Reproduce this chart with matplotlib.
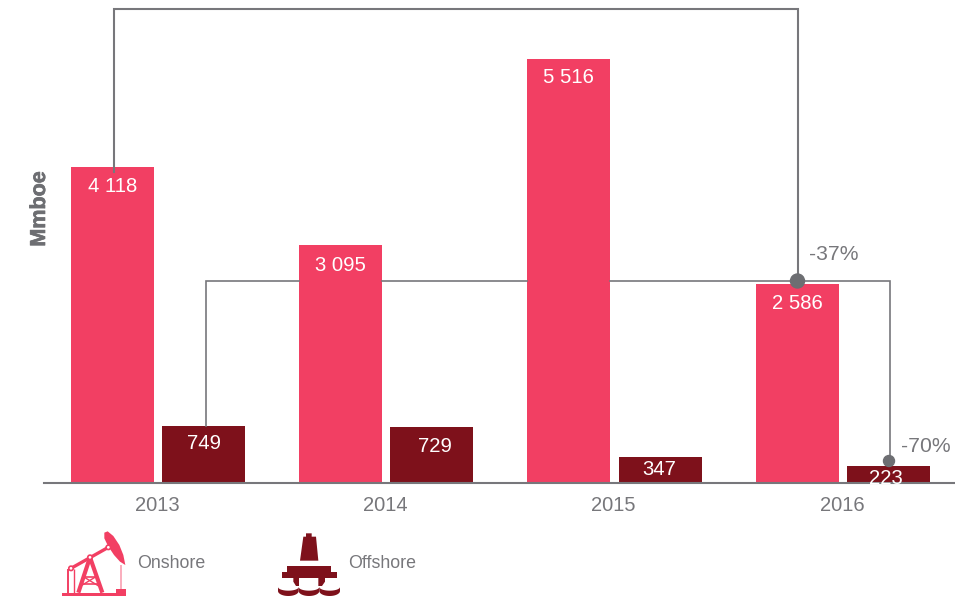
#!/usr/bin/env python3
"""Onshore / offshore volumes per year, Mmboe."""
import numpy as np
import matplotlib
matplotlib.use("Agg")
import matplotlib.pyplot as plt
import matplotlib.patheffects as pe
from matplotlib.patches import Polygon, Circle

plt.rcParams["font.family"] = ["Liberation Sans", "DejaVu Sans"]

years = ["2013", "2014", "2015", "2016"]
onshore = [4118, 3095, 5516, 2586]
offshore = [749, 729, 347, 223]
changes = ["-37%", "-70%"]

PINK = "#F23F63"
DARK = "#7E111B"
GREY = "#77777B"

fig = plt.figure(figsize=(9.55, 6), dpi=100)
ax = fig.add_axes([0, 0, 1, 1])
ax.patch.set_alpha(0)

x = np.array([0, 1, 1.997, 3])
x2 = np.arange(len(years)) + 91 / 228.3
width = 83 / 228.3
ax.bar(x, onshore, width, color=PINK)
ax.bar(x2, offshore, width, color=DARK)

ax.set_xlim(-0.4928, 3.690)
ax.set_ylim(-1514, 6283)
ax.set_yticks([])
for s in ["top", "left", "right"]:
    ax.spines[s].set_visible(False)
ax.spines["bottom"].set_position(("data", 0))
ax.spines["bottom"].set_bounds(-0.3, 3.690)
ax.spines["bottom"].set_color(GREY)
ax.spines["bottom"].set_linewidth(1.5)
# set_position resets the ticks, so these come after it
ax.set_xticks((x + x2) / 2 - 0.005)
ax.set_xticklabels(years, fontsize=14.5, color=GREY)
ax.tick_params(axis="x", length=0, pad=9)

# value labels, offset down from the bar top (points)
fmt = lambda v: f"{v:,}".replace(",", " ")
for i, (v, dy) in enumerate(zip(onshore, [-14, -14.5, -13.5, -14])):
    ax.annotate(fmt(v), (x[i], v), xytext=(0, dy), textcoords="offset points",
                ha="center", va="center", color="white", fontsize=14.6)
for i, (v, dy, dx) in enumerate(zip(offshore, [-13, -14, -9, -8.5], [0, 2, -1, -2])):
    ax.annotate(fmt(v), (x2[i], v), xytext=(dx, dy), textcoords="offset points",
                ha="center", va="center", color="white", fontsize=14.6)

# overlay in pixel coordinates for connectors and icons
ov = fig.add_axes([0, 0, 1, 1])
ov.set_xlim(0, 955)
ov.set_ylim(600, 0)
ov.axis("off")
ov.patch.set_alpha(0)

ov.plot([113.5, 113.5, 797.5, 797.5], [172, 9, 9, 281], color=GREY, lw=1.5,
        solid_joinstyle="miter")
ov.plot([205.5, 205.5, 299], [426, 281, 281], color=GREY, lw=1.2, solid_joinstyle="miter")
ov.plot([382, 527], [281, 281], color=GREY, lw=1.2)
ov.plot([610, 889.5, 889.5], [281, 281, 461], color=GREY, lw=1.2, solid_joinstyle="miter")
ov.add_patch(Circle((797.5, 281), 7, color="#6D6E72", zorder=5))
ov.add_patch(Circle((889, 461), 5.5, color="#6D6E72", zorder=5))
ov.text(809, 254, changes[0], color=GREY, fontsize=15.2, va="center")
ov.text(901, 447, changes[1], color=GREY, fontsize=15.2, va="center")

ov.text(39.5, 209, "Mmboe", rotation=90, ha="center", va="center",
        fontsize=15.5, fontweight="bold", color="#6D6E72",
        path_effects=[pe.withStroke(linewidth=0.5, foreground="#6D6E72")])


def z(zx, zy):
    # zoomed crop coordinates of the legend region to figure pixels
    return (40 + zx / 3, 510 + zy / 3)


def poly(pts, color):
    ov.add_patch(Polygon([z(*p) for p in pts], closed=True, facecolor=color, edgecolor="none"))


def seg(a, b, color=PINK, lw=1.5):
    pa, pb = z(*a), z(*b)
    ov.plot([pa[0], pb[0]], [pa[1], pb[1]], color=color, lw=lw, solid_capstyle="butt")


# pump jack icon
poly([(65, 248), (258, 248), (258, 258), (65, 258)], PINK)
poly([(228, 238), (258, 238), (258, 248), (228, 248)], PINK)
poly([(193, 68), (203, 64), (220, 78), (238, 105), (250, 135), (256, 165),
      (240, 155), (222, 135), (204, 108), (193, 85)], PINK)
seg((93, 175), (205, 112), lw=2.4)
seg((150, 142), (115, 248), lw=3)
seg((150, 142), (187, 248), lw=3)
seg((128, 200), (168, 200), lw=1.2)
seg((126, 222), (176, 222), lw=1.2)
seg((130, 200), (176, 228), lw=1)
seg((168, 200), (122, 228), lw=1)
seg((85, 178), (85, 248), lw=1.4)
seg((101, 178), (101, 248), lw=1)
seg((243, 165), (243, 238), color="#F9A0B2", lw=1.2)
for c in [(93, 175), (150, 142), (205, 112)]:
    ov.add_patch(Circle(z(*c), 2.2, facecolor="white", edgecolor=PINK, lw=1.2, zorder=6))
ov.text(137, 563, "Onshore", color=GREY, fontsize=12.8, va="center")

# platform icon
poly([(798, 70), (815, 70), (815, 80), (828, 80), (835, 152), (780, 152), (790, 80), (798, 80)], DARK)
poly([(740, 167), (873, 167), (873, 185), (890, 185), (890, 203), (725, 203),
      (725, 185), (740, 185)], DARK)
poly([(760, 203), (777, 203), (777, 228), (768, 228), (760, 215)], DARK)
poly([(835, 203), (855, 203), (855, 215), (846, 228), (835, 228)], DARK)
# waves: three scallops across the bottom
for cx in [745, 807, 869]:
    t = np.linspace(np.pi, 0, 25)
    top = [(cx + 31 * np.cos(a), 231 + 11 * np.sin(a)) for a in t]
    bot = [(cx + 31 * np.cos(a), 243 + 15 * np.sin(a)) for a in t[::-1]]
    poly(top + bot, DARK)
ov.text(348, 563, "Offshore", color=GREY, fontsize=12.8, va="center")

fig.savefig("out.png", dpi=100)
print("wrote out.png")
